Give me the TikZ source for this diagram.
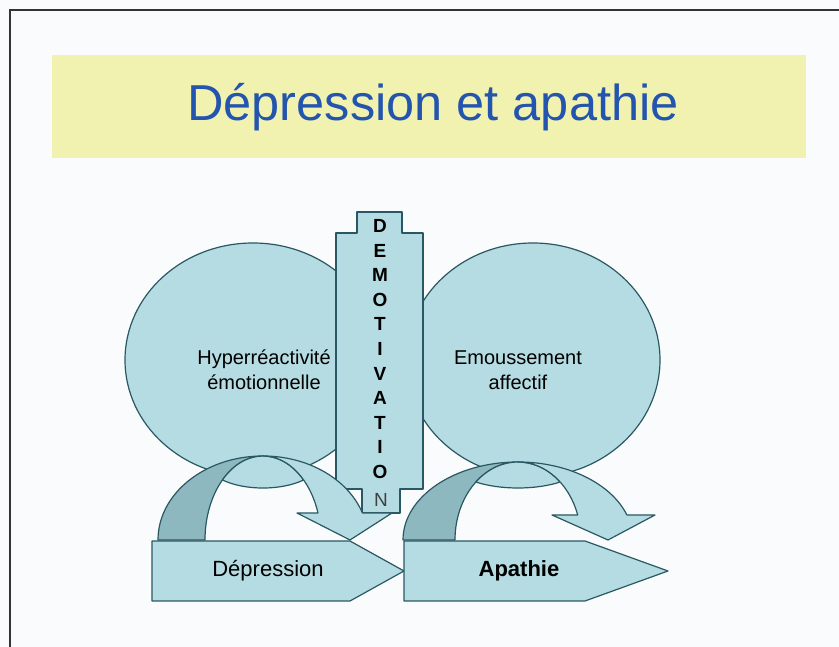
\documentclass[tikz,border=0pt]{standalone}
\usepackage{fontspec}
\setmainfont{Liberation Sans}
\definecolor{bgc}{HTML}{FAFBFD}
\definecolor{banner}{HTML}{F2F2B0}
\definecolor{titleblue}{HTML}{2355AF}
\definecolor{lightfill}{HTML}{B5DCE2}
\definecolor{darkfill}{HTML}{8DB8BF}
\definecolor{edge}{HTML}{2A5862}
\definecolor{framec}{HTML}{333333}
\begin{document}
\begin{tikzpicture}[x=1pt,y=1pt,
  blueshape/.style={draw=edge,line width=1.2pt,fill=lightfill,line join=round},
  darkshape/.style={draw=edge,line width=1.2pt,fill=darkfill,line join=round},
  lbl/.style={font=\fontsize{20}{25}\selectfont,align=center,text=black,inner sep=0pt},
  letter/.style={font=\fontsize{19}{20}\selectfont\bfseries,text=black,inner sep=0pt},
  plbl/.style={font=\fontsize{22}{24}\selectfont,text=black,inner sep=0pt}]
\useasboundingbox (0,0) rectangle (839,647);
\fill[bgc] (0,0) rectangle (839,647);
% frame
\draw[framec,line width=2.5pt] (10,0) -- (10,637) -- (839,637);
% banner
\fill[banner] (52,489) rectangle (806,592);
\node[font=\fontsize{50.5}{53}\selectfont,text=titleblue,inner sep=0pt] (title) at (433,540) {Dépression et apathie};
% ellipses
\draw[blueshape] (253,287) ellipse[x radius=128,y radius=117];
\draw[blueshape] (533,287) ellipse[x radius=127,y radius=117];
\node[lbl] (hyper) at (264,277) {Hyperréactivité\\émotionnelle};
\node[lbl] (emous) at (518,277) {Emoussement\\affectif};
% demotivation box
\draw[blueshape] (357,435) -- (402,435) -- (402,414) -- (423,414) -- (423,158) -- (400,158) -- (400,134)
  -- (362,134) -- (362,158) -- (336,158) -- (336,414) -- (357,414) -- cycle;
\node[letter] (l1) at (380,421) {D};
\node[letter] (l2) at (380,396.4) {E};
\node[letter] (l3) at (380,371.8) {M};
\node[letter] (l4) at (380,347.2) {O};
\node[letter] (l5) at (380,322.6) {T};
\node[letter] (l6) at (380,298) {I};
\node[letter] (l7) at (380,273.4) {V};
\node[letter] (l8) at (380,248.8) {A};
\node[letter] (l9) at (380,224.2) {T};
\node[letter] (l10) at (380,199.6) {I};
\node[letter] (l11) at (380,175) {O};
\node[font=\fontsize{19}{20}\selectfont,text=black!75,inner sep=0pt] (l12) at (381,147) {N};
% left curved arrow
\draw[darkshape] (158,107) arc[start angle=180,end angle=90,x radius=105,y radius=84]
  arc[start angle=90,end angle=180,x radius=58,y radius=84] -- cycle;
\draw[blueshape] (303.6,167) arc[start angle=45.6,end angle=134.4,x radius=58,y radius=84]
  .. controls (245,156.3) and (281,156.3) .. (303.6,167) -- cycle;
\draw[blueshape] (263,191) arc[start angle=90,end angle=18.75,x radius=105,y radius=84]
  -- (392,134) -- (350,107) -- (297,134) -- (318,134)
  arc[start angle=18.75,end angle=90,x radius=58,y radius=84] -- cycle;
% left pentagon
\draw[blueshape] (152,106) -- (350,106) -- (404,76) -- (350,46) -- (152,46) -- cycle;
\node[plbl] (dep) at (268,76) {Dépression};
% right curved arrow
\draw[darkshape] (403,107) arc[start angle=180,end angle=90,x radius=115,y radius=78]
  arc[start angle=90,end angle=180,x radius=63,y radius=78] -- cycle;
\draw[blueshape] (560.1,165) arc[start angle=48.04,end angle=131.96,x radius=63,y radius=78]
  .. controls (500,157) and (536,157) .. (560.1,165) -- cycle;
\draw[blueshape] (518,185) arc[start angle=90,end angle=18.69,x radius=115,y radius=78]
  -- (655,132) -- (608,107) -- (552,132) -- (577.7,132)
  arc[start angle=18.69,end angle=90,x radius=63,y radius=78] -- cycle;
% right pentagon
\draw[blueshape] (404,106) -- (585,106) -- (668,76) -- (585,46) -- (404,46) -- cycle;
\node[plbl,font=\fontsize{22}{24}\selectfont\bfseries] (apa) at (519,76) {Apathie};
\end{tikzpicture}
\end{document}
